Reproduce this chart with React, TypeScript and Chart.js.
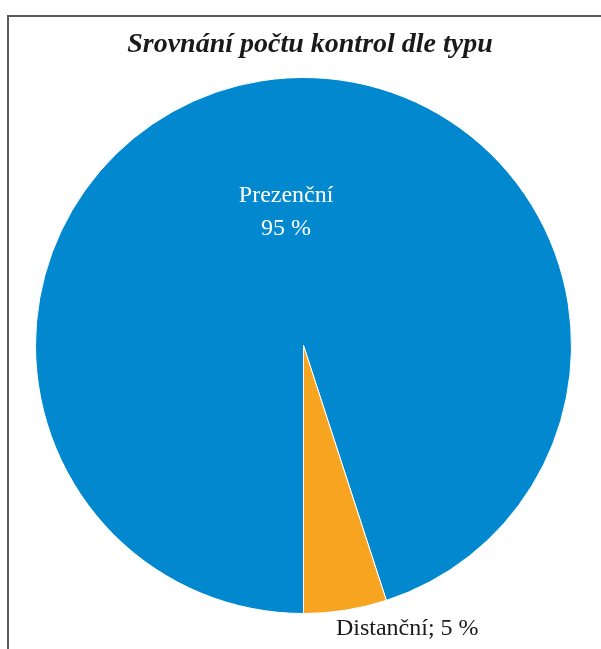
import React, { useEffect, useRef } from "react";
import { Chart, registerables } from "chart.js";

Chart.register(...registerables);

const TITLE = "Srovnání počtu kontrol dle typu";
const CATEGORIES = ["Prezenční", "Distanční"];
const VALUES = [95, 5];
const COLORS = ["#0288CF", "#F7A520"];

const labelPlugin = {
  id: "customLabels",
  afterDatasetsDraw(chart: any) {
    const ctx = chart.ctx;
    const meta = chart.getDatasetMeta(0);
    const total = VALUES.reduce((a, b) => a + b, 0);
    ctx.save();
    // title
    ctx.font = "italic bold 28px 'Liberation Serif', serif";
    ctx.fillStyle = "#1a1a1a";
    ctx.textAlign = "center";
    ctx.textBaseline = "alphabetic";
    ctx.fillText(TITLE, 310, 52);

    meta.data.forEach((arc: any, i: number) => {
      const p = arc.getProps(["x", "y", "startAngle", "endAngle", "outerRadius"], true);
      const mid = (p.startAngle + p.endAngle) / 2;
      const pct = Math.round((VALUES[i] / total) * 100);
      ctx.font = "24px 'Liberation Serif', serif";
      if (i === 0) {
        const r = p.outerRadius * 0.51;
        const x = p.x + Math.cos(mid) * r + 4;
        const y = p.y + Math.sin(mid) * r;
        ctx.fillStyle = "#ffffff";
        ctx.textAlign = "center";
        ctx.fillText(CATEGORIES[i], x, y - 9);
        ctx.fillText(pct + " %", x, y + 24);
      } else {
        const r = p.outerRadius + 16;
        const x = p.x + Math.cos(mid) * r;
        const y = p.y + Math.sin(mid) * r;
        ctx.fillStyle = "#1a1a1a";
        ctx.textAlign = "left";
        ctx.fillText(CATEGORIES[i] + "; " + pct + " %", x - 12, y + 9);
      }
    });
    ctx.restore();
  },
};

export default function App() {
  const ref = useRef<HTMLCanvasElement | null>(null);
  useEffect(() => {
    if (!ref.current) return;
    const chart = new Chart(ref.current, {
      type: "pie",
      data: {
        labels: CATEGORIES,
        datasets: [
          {
            data: VALUES,
            backgroundColor: COLORS,
            borderColor: "#ffffff",
            borderWidth: 1,
          },
        ],
      },
      options: {
        animation: false,
        responsive: false,
        rotation: 180,
        layout: { padding: { top: 77, left: 35, right: 29, bottom: 35 } },
        plugins: {
          legend: { display: false },
          tooltip: { enabled: false },
          title: { display: false },
        },
      },
      plugins: [labelPlugin],
    });
    return () => chart.destroy();
  }, []);
  return (
    <div style={{ position: "absolute", left: 0, top: 0, width: 601, height: 649, overflow: "hidden", background: "#fff" }}>
      <div
        style={{
          position: "absolute",
          left: 7,
          top: 15,
          width: 700,
          height: 700,
          borderTop: "2px solid #5a5a5a",
          borderLeft: "2px solid #5a5a5a",
        }}
      />
      <canvas ref={ref} width={601} height={649} style={{ position: "absolute", left: 0, top: 0 }} />
    </div>
  );
}
